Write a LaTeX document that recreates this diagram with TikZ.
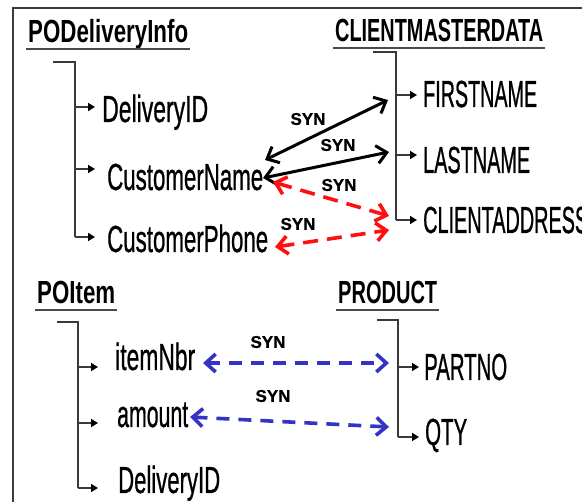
\documentclass[tikz,border=0pt]{standalone}
\usepackage{fontspec}
\setmainfont{Liberation Sans}
\newfontfamily\fieldfont{Liberation Sans}[FakeBold=1.0]
\newfontfamily\synfont{Liberation Sans Bold}[FakeBold=0.8]
\usetikzlibrary{arrows.meta}

% squeeze a text box to a given width, keeping its height
\newcommand{\fitw}[2]{\resizebox{#1pt}{\height}{#2}}

\definecolor{framegray}{HTML}{3C3C3C}
\definecolor{treegray}{HTML}{3A3A3A}
\definecolor{ulgray}{HTML}{4A4A4A}
\definecolor{synred}{HTML}{FF1010}
\definecolor{synblue}{RGB}{52,52,196}

\tikzset{
  tabletitle/.style={anchor=base west, inner sep=0pt, font=\bfseries\fontsize{32}{34}\selectfont},
  field/.style={anchor=base west, inner sep=0pt, font=\fieldfont\fontsize{37.7}{40}\selectfont},
  synlabel/.style={inner sep=0pt, font=\synfont\fontsize{17}{18}\selectfont},
  uline/.style={draw=ulgray, line width=2.6pt},
  tree/.style={draw=treegray, line width=1.6pt},
  branch/.style={tree, -{Triangle[length=7pt,width=8pt,color=black]}},
  synhead/.style={{Straight Barb[length=10pt,width=18pt]}-{Straight Barb[length=10pt,width=18pt]}},
  synblack/.style={synhead, draw=black, line width=3pt},
  synreddash/.style={synhead, draw=synred, line width=3.6pt, dash pattern=on 15pt off 9pt},
  synbluedash/.style={synhead, draw=synblue, line width=3.6pt, dash pattern=on 13pt off 9pt},
}

\begin{document}
\begin{tikzpicture}[x=1pt, y=-1pt]
\useasboundingbox (0,0) rectangle (582,502);
\fill[white] (0,0) rectangle (582,502);

% frame (only its top and left edges lie inside the picture)
\draw[framegray, line width=2pt] (12.5,520) -- (12.5,8.5) -- (600,8.5);

% ---------- table titles ----------
\node[tabletitle] (tPO)   at (28,43)  {\fitw{160}{PODeliveryInfo}};
\node[tabletitle] (tCM)   at (335,42) {\fitw{208}{CLIENTMASTERDATA}};
\node[tabletitle] (tIt)   at (37,304) {\fitw{78}{POItem}};
\node[tabletitle] (tPr)   at (338,304){\fitw{99}{PRODUCT}};

\foreach \t in {tPO,tCM,tIt,tPr}
  \draw[uline] ([xshift=-2pt,yshift=-6pt]\t.base west) -- ([xshift=2pt,yshift=-6pt]\t.base east);

% ---------- fields ----------
\node[field] (dID)   at (102,122) {\fitw{106}{DeliveryID}};
\node[field] (cName) at (107,190) {\fitw{156}{CustomerName}};
\node[field] (cPh)   at (107,252) {\fitw{161}{CustomerPhone}};

\node[field] (fName) at (423,107) {\fitw{114}{FIRSTNAME}};
\node[field] (lName) at (423,173) {\fitw{107}{LASTNAME}};
\node[field] (cAdr)  at (423,233) {\fitw{165}{CLIENTADDRESS}};

\node[field] (iNbr)  at (115,370) {\fitw{80}{itemNbr}};
\node[field] (amt)   at (117,427) {\fitw{71}{amount}};
\node[field] (dID2)  at (118,493) {\fitw{102}{DeliveryID}};

\node[field] (pNo)   at (424,380) {\fitw{83}{PARTNO}};
\node[field] (qty)   at (425,445) {\fitw{42}{QTY}};

% ---------- tree brackets ----------
% PODeliveryInfo
\draw[tree] (53,62) -- (75,62) -- (75,237);
\draw[branch] (75,107) -- (95,107);
\draw[branch] (75,169) -- (95,169);
\draw[branch] (75,237) -- (95,237);
% CLIENTMASTERDATA
\draw[tree] (373,52) -- (396,52) -- (396,220);
\draw[branch] (396,95)  -- (417,95);
\draw[branch] (396,155) -- (417,155);
\draw[branch] (396,220) -- (417,220);
% POItem
\draw[tree] (57,322) -- (78,322) -- (78,488);
\draw[branch] (78,367) -- (98,367);
\draw[branch] (78,423) -- (98,423);
\draw[branch] (78,488) -- (98,488);
% PRODUCT
\draw[tree] (377,320) -- (398,320) -- (398,437);
\draw[branch] (398,367) -- (419,367);
\draw[branch] (398,437) -- (419,437);

% ---------- synonym links ----------
\coordinate (cnA) at (265,160);
\coordinate (cnB) at (263,178);
\coordinate (cnC) at (273,182);
\coordinate (cpA) at (275,247);
\coordinate (fnA) at (388,100);
\coordinate (lnA) at (389,152);
\coordinate (caA) at (389,216);
\coordinate (caB) at (389,230);
\coordinate (inA) at (203,363);
\coordinate (pnA) at (389,363);
\coordinate (amA) at (190,417);
\coordinate (qtA) at (389,427);

\draw[synblack]    (cnA) -- (fnA);
\draw[synblack]    (cnB) -- (lnA);
\draw[synreddash]  (cnC) -- (caA);
\draw[synreddash]  (cpA) -- (caB);
\draw[synbluedash] (inA) -- (pnA);
\draw[synbluedash] (amA) -- (qtA);

\node[synlabel] (s1) at (308,119) {SYN};
\node[synlabel] (s2) at (338,145) {SYN};
\node[synlabel] (s3) at (339,185) {SYN};
\node[synlabel] (s4) at (298,224) {SYN};
\node[synlabel] (s5) at (268,342) {SYN};
\node[synlabel] (s6) at (273,396) {SYN};
\end{tikzpicture}
\end{document}
